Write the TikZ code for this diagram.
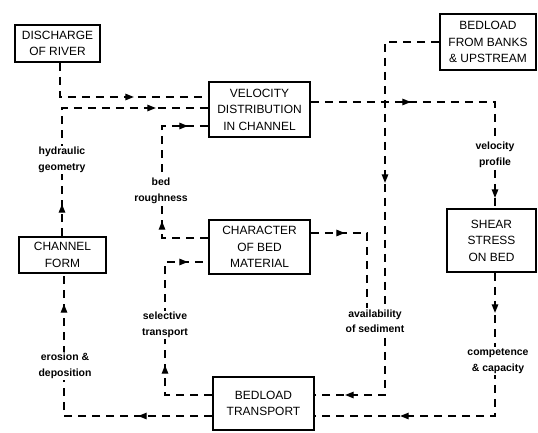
\documentclass[tikz,border=0pt]{standalone}
\usepackage{fontspec}
\setmainfont{Liberation Sans}
\usetikzlibrary{arrows.meta,decorations.markings}
\tikzset{
  box/.style={draw, line width=1.7bp, align=center, inner sep=0pt, font=\fontsize{12}{16.5}\selectfont},
  flow/.style={line width=1.2bp, dash pattern=on 8bp off 6bp},
  lab/.style={fill=white, align=center, inner sep=1.5bp, font=\bfseries\fontsize{10.5}{15.5}\selectfont},
  tipA/.style={postaction={decorate}, decoration={markings, mark=at position #1 with {\arrow{Triangle[length=8.5bp,width=6.5bp]}}}},
  tipB/.style 2 args={postaction={decorate}, decoration={markings, mark=at position #1 with {\arrow{Triangle[length=8.5bp,width=6.5bp]}}, mark=at position #2 with {\arrow{Triangle[length=8.5bp,width=6.5bp]}}}},
}
\begin{document}
\begin{tikzpicture}[x=1bp, y=-1bp]
\useasboundingbox (0,0) rectangle (538,433);
% boxes
\node[box, minimum width=85bp, minimum height=37bp] (dis) at (57.5,43.5) {DISCHARGE\\OF RIVER};
\node[box, minimum width=101bp, minimum height=55bp] (vel) at (259.5,109.5) {VELOCITY\\DISTRIBUTION\\IN CHANNEL};
\node[box, minimum width=101bp, minimum height=54bp] (chr) at (259.5,247) {CHARACTER\\OF BED\\MATERIAL};
\node[box, minimum width=101bp, minimum height=53bp] (btr) at (263.5,403.5) {BEDLOAD\\TRANSPORT};
\node[box, minimum width=96bp, minimum height=56bp] (bnk) at (488,42) {BEDLOAD\\FROM BANKS\\\& UPSTREAM};
\node[box, minimum width=89bp, minimum height=63bp] (shr) at (491.5,240.5) {SHEAR\\STRESS\\ON BED};
\node[box, minimum width=87bp, minimum height=36bp] (chf) at (62.5,255) {CHANNEL\\FORM};
% corner coordinates
\coordinate (d1) at (60,97);
\coordinate (h1) at (62,108);
\coordinate (r1) at (162,238);
\coordinate (r2) at (162,126);
\coordinate (s1) at (165,395);
\coordinate (s2) at (165,262);
\coordinate (e1) at (64,416);
\coordinate (v1) at (495,102);
\coordinate (k1) at (385,42);
\coordinate (k2) at (385,395);
\coordinate (a1) at (367,233);
\coordinate (a2) at (367,314);
\coordinate (c1) at (495,416);
% connectors
\draw[flow, tipA=108bp] (dis.south -| d1) -- (d1) -- (vel.west |- d1);
\draw[flow, tipB={32bp}{222bp}] (chf.north -| h1) -- (h1) -- (vel.west |- h1);
\draw[flow, tipB={63bp}{184bp}] (chr.west |- r1) -- (r1) -- (r2) -- (vel.west |- r2);
\draw[flow, tipB={77bp}{203bp}] (btr.west |- s1) -- (s1) -- (s2) -- (chr.west |- s2);
\draw[flow, tipB={74bp}{260bp}] (btr.west |- e1) -- (e1) -- (e1 |- chf.south);
\draw[flow, tipB={100bp}{280bp}] (vel.east |- v1) -- (v1) -- (v1 |- shr.north);
\draw[flow, tipB={195bp}{447bp}] (bnk.west) -- (k1) -- (k2) -- (btr.east |- k2);
\draw[flow, tipA=34bp] (chr.east |- a1) -- (a1) -- (a2);
\draw[flow, tipB={40bp}{238bp}] (shr.south -| c1) -- (c1) -- (btr.east |- c1);
% labels
\node[lab] (lhg) at (62,160) {hydraulic\\geometry};
\node[lab] (lbr) at (161,191) {bed\\roughness};
\node[lab] (lvp) at (495,155) {velocity\\profile};
\node[lab] (las) at (375,321) {availability\\of sediment};
\node[lab] (lst) at (165,325) {selective\\transport};
\node[lab] (led) at (65,366) {erosion \&\\deposition};
\node[lab] (lcc) at (498,361) {competence\\\& capacity};
\end{tikzpicture}
\end{document}
